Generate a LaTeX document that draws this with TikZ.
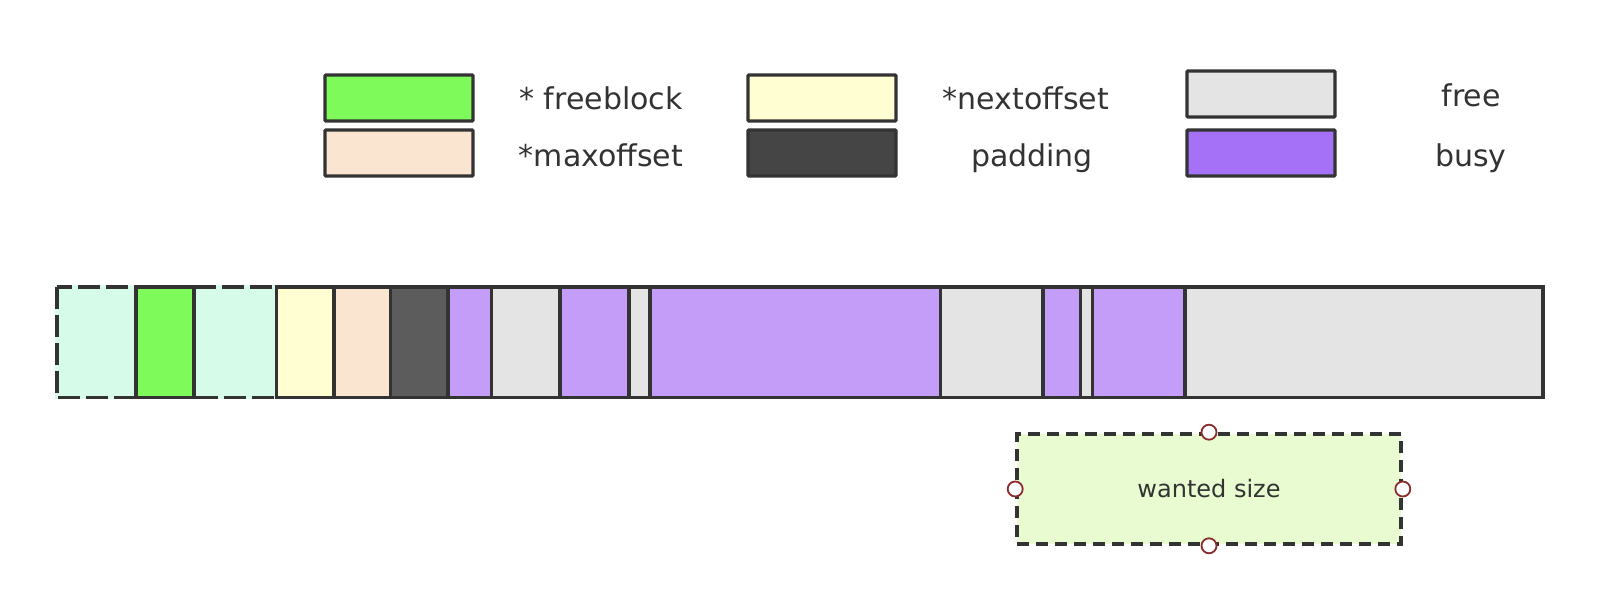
\documentclass[tikz,border=0pt]{standalone}
\usepackage{fontspec}
\setmainfont{DejaVu Sans}
\definecolor{edge}{HTML}{333333}
\definecolor{txt}{HTML}{333333}
\definecolor{mint}{HTML}{D6FBE8}
\definecolor{lgreen}{HTML}{7FFA5B}
\definecolor{lyellow}{HTML}{FFFDD2}
\definecolor{peach}{HTML}{FAE6D0}
\definecolor{darkseg}{HTML}{5C5C5C}
\definecolor{darkleg}{HTML}{454545}
\definecolor{busyseg}{HTML}{C39DF7}
\definecolor{busyleg}{HTML}{A571F6}
\definecolor{freegray}{HTML}{E4E4E4}
\definecolor{wantfill}{HTML}{E9FCD1}
\definecolor{handlecol}{HTML}{8B2B2B}
\begin{document}
\begin{tikzpicture}[x=1pt,y=-1pt,
  seg/.style={draw=edge, line width=3.2pt},
  mintbase/.style={draw=mint, line width=3.6pt, fill=mint},
  mintseg/.style={draw=edge, line width=3.6pt, dash pattern=on 22pt off 6pt},
  legbox/.style={draw=edge, line width=3.4pt, rounded corners=1pt, inner sep=0pt, minimum width=148pt, minimum height=46pt},
  legtext/.style={text=txt, font=\fontsize{30}{36}\selectfont, anchor=base, inner sep=0pt},
  wanted/.style={draw=edge, fill=wantfill, line width=3.6pt, dash pattern=on 12pt off 7pt, inner sep=0pt, text=txt, font=\fontsize{24}{29}\selectfont},
  handle/.style={circle, draw=handlecol, fill=white, line width=1.8pt, minimum size=15pt, inner sep=0pt}]
\useasboundingbox (0,0) rectangle (1622,596);

% legend
\node[legbox, fill=lgreen] (lg1) at (399,98) {};
\node[legbox, fill=peach] (lg2) at (399,153) {};
\node[legbox, fill=lyellow] (lg3) at (822,98) {};
\node[legbox, fill=darkleg] (lg4) at (822,153) {};
\node[legbox, fill=freegray] (lg5) at (1261,94) {};
\node[legbox, fill=busyleg] (lg6) at (1261,153) {};
\node[legtext] (t1) at (601,110) {* freeblock};
\node[legtext] (t2) at (601,167) {*maxoffset};
\node[legtext] (t3) at (1026,110) {*nextoffset};
\node[legtext] (t4) at (1032,167) {padding};
\node[legtext] (t5) at (1471,107) {free};
\node[legtext] (t6) at (1471,167) {busy};

% bar
\filldraw[mintbase] (56.7,287) rectangle (136,397.5);
\filldraw[mintbase] (194,287) rectangle (276.7,397.5);
\draw[mintseg] (56.7,287) rectangle (136,397.5);
\draw[mintseg] (194,287) rectangle (276.7,397.5);
\foreach \a/\b/\c in {136/194/lgreen, 276.7/334/lyellow, 334/390.7/peach, 390.7/448/darkseg,
  448/491.7/busyseg, 491.7/560/freegray, 560/629/busyseg, 629/650/freegray, 650/940.7/busyseg,
  940.7/1043/freegray, 1043/1080.8/busyseg, 1080.8/1092.3/freegray, 1092.3/1185/busyseg,
  1185/1543/freegray}
  {\filldraw[seg, fill=\c] (\a,287) rectangle (\b,397.5);}

% wanted size
\node[wanted, minimum width=384pt, minimum height=110pt] (want) at (1209,489) {wanted size};
\foreach \a in {north,south,east,west} \node[handle] (h-\a) at (want.\a) {};
\end{tikzpicture}
\end{document}
